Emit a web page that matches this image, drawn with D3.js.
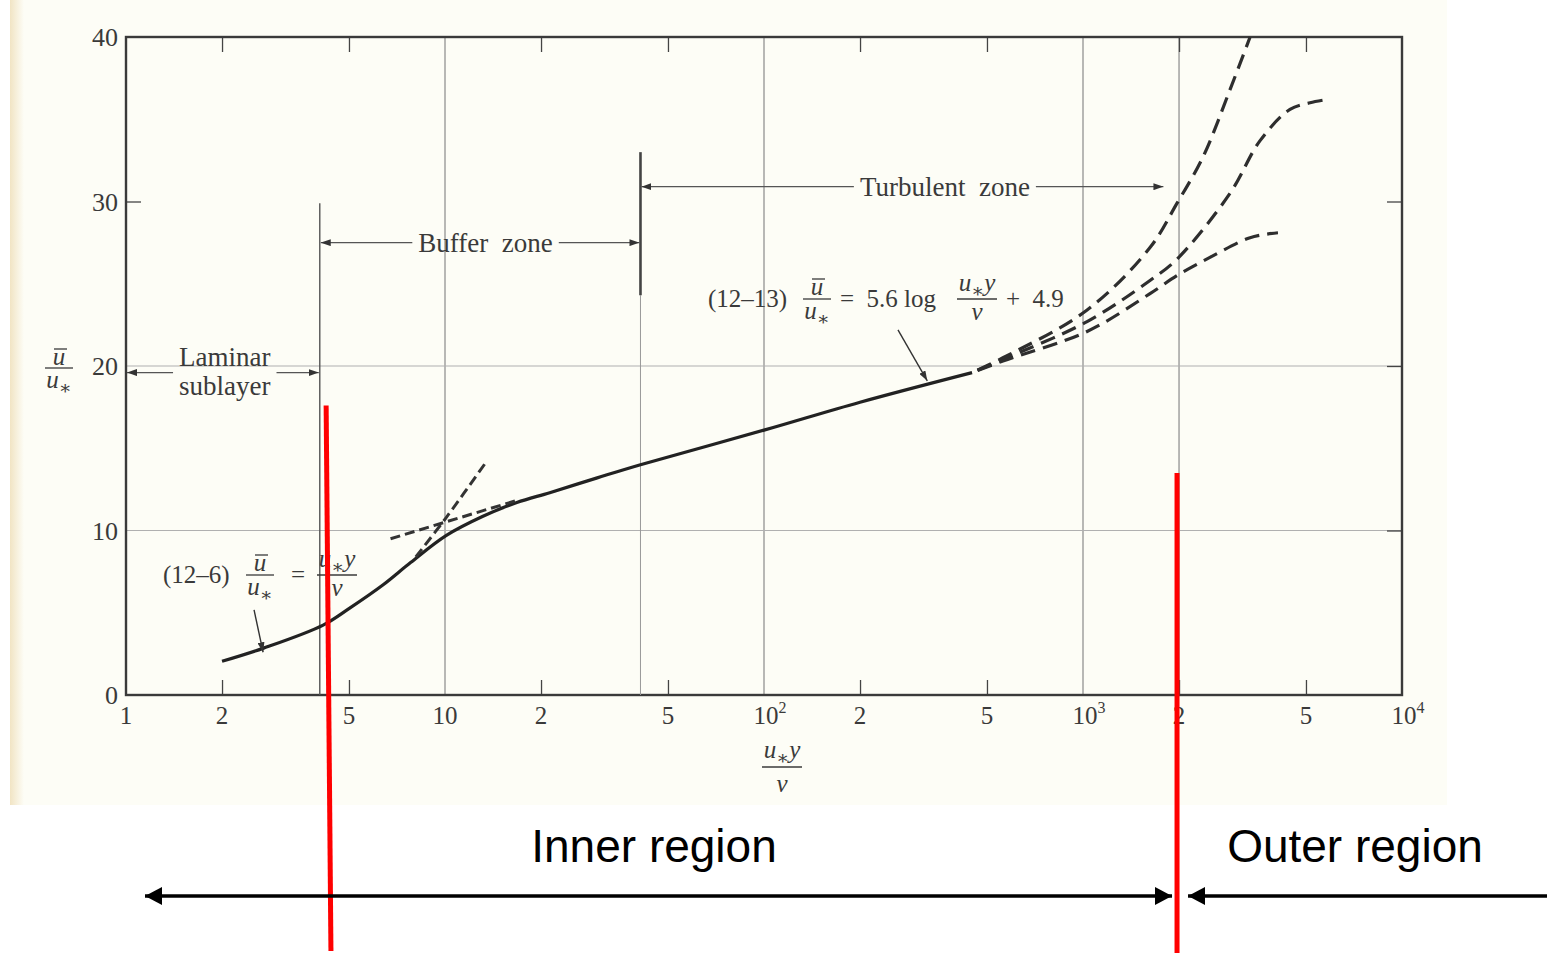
<!DOCTYPE html>
<html>
<head>
<meta charset="utf-8">
<style>
  body { margin: 0; background: #fff; }
  svg text { font-family: "Liberation Serif", "DejaVu Serif", serif; fill: #3a3a3a; }
  svg text.sans { font-family: "Liberation Sans", Arial, sans-serif; fill: #000; }
</style>
</head>
<body>
<svg id="chart" width="1547" height="953"></svg>
<script src="https://cdn.jsdelivr.net/npm/d3@7"></script>
<script>
// values as [u*y/nu, u/u*]
const wallCurve = [[2.0, 2.05], [2.7, 2.85], [4.15, 4.25], [5.0, 5.25], [6.4, 6.7], [7.8, 8.05],
  [10.1, 9.7], [13.1, 10.85], [16.8, 11.7], [21.3, 12.3], [30, 13.2], [41, 14.0], [100, 16.1],
  [200, 17.8], [449, 19.6]];
const linearTangent = [[8.1, 8.4], [10.1, 10.8], [13.5, 14.2]];
const logTangent = [[6.75, 9.5], [16.6, 11.8]];
const outerHigh = [[449, 19.6], [561, 20.5], [1030, 23.4], [1622, 27.2], [1972, 29.9], [2377, 32.7],
  [2890, 36.8], [3340, 40.0]];
const outerMid = [[449, 19.6], [561, 20.4], [1030, 22.7], [1622, 25.2], [1972, 26.5], [2890, 30.5],
  [3590, 33.7], [4455, 35.6], [5150, 36.0], [5825, 36.2]];
const outerLow = [[449, 19.6], [561, 20.3], [1030, 22.1], [1622, 24.4], [1972, 25.5], [2500, 26.6],
  [3340, 27.8], [4085, 28.1]];

const xGrid = [10, 100, 1000, 2000];
const yGrid = [10, 20];
const xMinorTicks = [2, 5, 20, 50, 200, 500, 2000, 5000];
const yTicks = [0, 10, 20, 30, 40];
const xTickLabels = [
  {v: 1, t: "1"}, {v: 2, t: "2"}, {v: 5, t: "5"}, {v: 10, t: "10"}, {v: 20, t: "2"}, {v: 50, t: "5"},
  {v: 100, t: "10", sup: "2"}, {v: 200, t: "2"}, {v: 500, t: "5"}, {v: 1000, t: "10", sup: "3"},
  {v: 2000, t: "2"}, {v: 5000, t: "5"}, {v: 10000, t: "10", sup: "4"}];

const zones = [
  {lines: ["Laminar", "sublayer"], from: 1, to: 4.05, level: 19.6, at: 2.04},
  {lines: ["Buffer\u2002zone"], from: 4.05, to: 41, level: 27.5, at: 13.4},
  {lines: ["Turbulent\u2002zone"], from: 41, to: 1800, level: 30.9, at: 369}];

const svg = d3.select("#chart");
const x = d3.scaleLog().domain([1, 1e4]).range([126, 1402]);
const y = d3.scaleLinear().domain([0, 40]).range([695, 37]);

// scanned page
const defs = svg.append("defs");
const grad = defs.append("linearGradient").attr("id", "edge");
grad.append("stop").attr("offset", 0).attr("stop-color", "#f1e4c4");
grad.append("stop").attr("offset", 1).attr("stop-color", "#fdfdf6");
svg.append("rect").attr("x", 10).attr("y", 0).attr("width", 1437).attr("height", 805).attr("fill", "#fdfdf6");
svg.append("rect").attr("x", 10).attr("y", 0).attr("width", 14).attr("height", 805).attr("fill", "url(#edge)");

function marker(id, len, half) {
  defs.append("marker").attr("id", id).attr("markerUnits", "userSpaceOnUse")
    .attr("markerWidth", len).attr("markerHeight", half * 2)
    .attr("refX", len).attr("refY", half).attr("orient", "auto-start-reverse")
    .append("path").attr("d", `M0,0L${len},${half}L0,${half * 2}Z`)
    .attr("fill", id == "big" ? "#000" : "#333");
}
marker("small", 10, 3.5);
marker("big", 17, 9);

// grid
svg.append("g").selectAll("line").data(xGrid).join("line")
  .attr("x1", d => x(d)).attr("x2", d => x(d)).attr("y1", y(40)).attr("y2", y(0))
  .attr("stroke", "#8a8a8a").attr("stroke-width", 1.2);
svg.append("g").selectAll("line").data(yGrid).join("line")
  .attr("x1", x(1)).attr("x2", x(1e4)).attr("y1", d => y(d)).attr("y2", d => y(d))
  .attr("stroke", "#b0b0b0").attr("stroke-width", 1.2);

// ticks
function ticks(axis, tr) {
  let g = svg.append("g").attr("transform", tr).call(axis);
  g.select(".domain").remove();
  g.selectAll("line").attr("stroke", "#444").attr("stroke-width", 1.3);
}
ticks(d3.axisBottom(x).tickValues(xMinorTicks).tickSize(-15).tickFormat(""), `translate(0,${y(0)})`);
ticks(d3.axisTop(x).tickValues(xMinorTicks).tickSize(-15).tickFormat(""), `translate(0,${y(40)})`);
ticks(d3.axisLeft(y).tickValues([30]).tickSize(-15).tickFormat(""), `translate(${x(1)},0)`);
ticks(d3.axisRight(y).tickValues([10, 20, 30]).tickSize(-15).tickFormat(""), `translate(${x(1e4)},0)`);

svg.append("rect").attr("x", x(1)).attr("y", y(40)).attr("width", x(1e4) - x(1)).attr("height", y(0) - y(40))
  .attr("fill", "none").attr("stroke", "#3a3a3a").attr("stroke-width", 2.4);

// tick labels
svg.append("g").selectAll("text").data(yTicks).join("text")
  .attr("x", x(1) - 8).attr("y", d => y(d)).attr("dy", "0.35em")
  .attr("text-anchor", "end").style("font-size", "26px").text(d => d);
let xl = svg.append("g").selectAll("text").data(xTickLabels).join("text")
  .attr("x", d => x(d.v) + (d.sup ? 6 : 0)).attr("y", y(0) + 29)
  .attr("text-anchor", "middle").style("font-size", "25px");
xl.append("tspan").text(d => d.t);
xl.filter(d => d.sup).append("tspan").attr("dy", -11).style("font-size", "16px").text(d => d.sup);

// math helpers
function math(g, cx, by, parts, size) {
  let t = g.append("text").attr("x", cx).attr("y", by).attr("text-anchor", "middle").style("font-size", size + "px");
  let shift = 0;
  parts.forEach(p => {
    let sp = t.append("tspan").text(p.t);
    if (p.i) sp.style("font-style", "italic");
    let want = p.sub ? 6 : 0;
    if (want != shift) { sp.attr("dy", want - shift); shift = want; }
    if (p.sub) sp.style("font-size", Math.round(size * 0.75) + "px");
  });
  return t;
}
const U_BAR = [{t: "u", i: true}];
const U_STAR = [{t: "u", i: true}, {t: "\u2217", sub: true}];
const U_STAR_Y = [{t: "u", i: true}, {t: "\u2217", sub: true}, {t: "y", i: true}];
const NU = [{t: "\u03bd", i: true}];

function fraction(cx, bar, num, den, w, over, numOff, denOff) {
  let g = svg.append("g");
  math(g, cx, bar - numOff, num, 25);
  math(g, cx, bar + denOff, den, 25);
  g.append("line").attr("x1", cx - w / 2).attr("x2", cx + w / 2).attr("y1", bar).attr("y2", bar)
    .attr("stroke", "#3a3a3a").attr("stroke-width", 1.3);
  if (over) g.append("line").attr("x1", cx - 5).attr("x2", cx + 8).attr("y1", bar - numOff - 16).attr("y2", bar - numOff - 16)
    .attr("stroke", "#3a3a3a").attr("stroke-width", 1.3);
}

// axis titles
fraction(59, 368, U_BAR, U_STAR, 28, true, 3, 20);
fraction(782, 767, U_STAR_Y, NU, 40, false, 9, 25);

// zone markers
svg.append("line").attr("x1", x(4.05)).attr("x2", x(4.05)).attr("y1", y(29.9)).attr("y2", y(0))
  .attr("stroke", "#555").attr("stroke-width", 1.4);
svg.append("line").attr("x1", x(41)).attr("x2", x(41)).attr("y1", y(24.3)).attr("y2", y(0))
  .attr("stroke", "#999").attr("stroke-width", 1);
svg.append("line").attr("x1", x(41)).attr("x2", x(41)).attr("y1", y(33.0)).attr("y2", y(24.3))
  .attr("stroke", "#444").attr("stroke-width", 2.6);

zones.forEach(z => {
  let g = svg.append("g");
  let ly = y(z.level);
  let n = z.lines.length;
  let txt = g.selectAll("text").data(z.lines).join("text")
    .attr("x", x(z.at)).attr("y", (d, i) => ly + (n == 1 ? 0 : (i == 0 ? -16 : 13)))
    .attr("dy", "0.35em").attr("text-anchor", "middle").style("font-size", "27px").text(d => d);
  let left = 1e9, right = -1e9;
  txt.each(function () { let b = this.getBBox(); left = Math.min(left, b.x); right = Math.max(right, b.x + b.width); });
  g.append("line").attr("x1", left - 6).attr("x2", x(z.from) + 1).attr("y1", ly).attr("y2", ly)
    .attr("stroke", "#555").attr("stroke-width", 1.2).attr("marker-end", "url(#small)");
  g.append("line").attr("x1", right + 6).attr("x2", x(z.to) - 1).attr("y1", ly).attr("y2", ly)
    .attr("stroke", "#555").attr("stroke-width", 1.2).attr("marker-end", "url(#small)");
});

// curves
const line = d3.line().x(d => x(d[0])).y(d => y(d[1]));
const smooth = d3.curveCatmullRom.alpha(0.5);
svg.append("path").datum(wallCurve).attr("d", line.curve(smooth))
  .attr("fill", "none").attr("stroke", "#222").attr("stroke-width", 3.2);
svg.append("path").datum(linearTangent).attr("d", line.curve(smooth))
  .attr("fill", "none").attr("stroke", "#333").attr("stroke-width", 3).attr("stroke-dasharray", "10,5");
svg.append("path").datum(logTangent).attr("d", line.curve(d3.curveLinear))
  .attr("fill", "none").attr("stroke", "#333").attr("stroke-width", 3).attr("stroke-dasharray", "10,5");
[outerHigh, outerMid, outerLow].forEach(s => {
  svg.append("path").datum(s).attr("d", line.curve(smooth))
    .attr("fill", "none").attr("stroke", "#2e2e2e").attr("stroke-width", 3.2)
    .attr("stroke-dasharray", "15,8").attr("stroke-dashoffset", 17);
});

// equation labels
function plain(px, py, s) {
  svg.append("text").attr("x", px).attr("y", py).style("font-size", "25px").text(s);
}
// (12-13)
plain(708, 307, "(12\u201313)");
fraction(817, 299, U_BAR, U_STAR, 28, true, 4, 20);
plain(840, 307, "=\u20025.6 log");
fraction(977, 299, U_STAR_Y, NU, 40, false, 8, 21);
plain(1006, 307, "+\u20024.9");
svg.append("line").attr("x1", x(263)).attr("y1", y(22.2)).attr("x2", x(325)).attr("y2", y(19.1))
  .attr("stroke", "#333").attr("stroke-width", 1.4).attr("marker-end", "url(#small)");
// (12-6)
plain(163, 583, "(12\u20136)");
fraction(260, 575, U_BAR, U_STAR, 28, true, 4, 20);
plain(291, 583, "=");
fraction(337, 575, U_STAR_Y, NU, 40, false, 8, 21);
svg.append("line").attr("x1", x(2.52)).attr("y1", y(5.17)).attr("x2", x(2.69)).attr("y2", y(2.6))
  .attr("stroke", "#333").attr("stroke-width", 1.4).attr("marker-end", "url(#small)");

// inner / outer region overlay
const innerEdge = x(2000) - 2;
svg.append("line").attr("x1", x(4.24)).attr("y1", y(17.6)).attr("x2", x(4.39)).attr("y2", 951)
  .attr("stroke", "#f00").attr("stroke-width", 5);
svg.append("line").attr("x1", innerEdge).attr("y1", y(13.5)).attr("x2", innerEdge).attr("y2", 953)
  .attr("stroke", "#f00").attr("stroke-width", 5);
svg.append("line").attr("x1", 145).attr("x2", innerEdge - 5).attr("y1", 896).attr("y2", 896)
  .attr("stroke", "#000").attr("stroke-width", 3.5)
  .attr("marker-start", "url(#big)").attr("marker-end", "url(#big)");
svg.append("line").attr("x1", 1547).attr("x2", innerEdge + 11).attr("y1", 896).attr("y2", 896)
  .attr("stroke", "#000").attr("stroke-width", 3.5).attr("marker-end", "url(#big)");
svg.append("text").attr("class", "sans").attr("x", 654).attr("y", 862).attr("text-anchor", "middle")
  .style("font-size", "46px").text("Inner region");
svg.append("text").attr("class", "sans").attr("x", 1355).attr("y", 862).attr("text-anchor", "middle")
  .style("font-size", "46px").text("Outer region");
</script>
</body>
</html>
